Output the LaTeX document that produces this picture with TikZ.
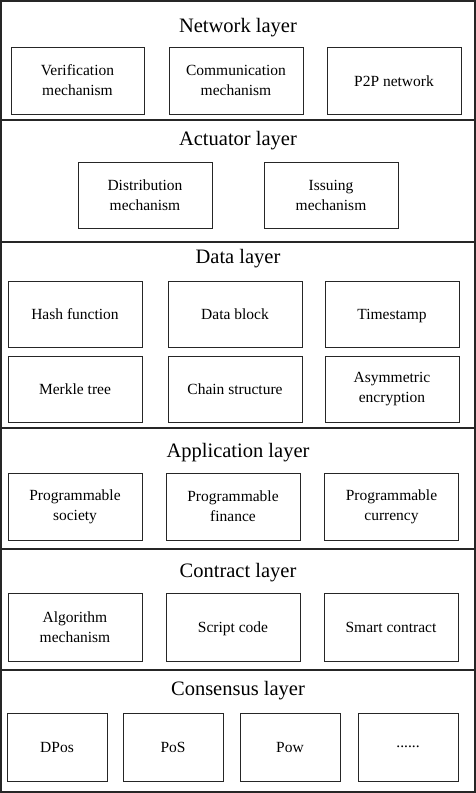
\documentclass[tikz,border=0pt]{standalone}
\usepackage{fontspec}
\setmainfont{Liberation Serif}
\begin{document}
\begin{tikzpicture}[x=1pt,y=-1pt,
  layerbox/.style={draw=black!85,line width=1.3pt,minimum width=474pt,inner sep=0pt},
  title/.style={font=\fontsize{20.5}{24}\selectfont,anchor=base,inner sep=0pt},
  item/.style={draw=black!85,line width=1pt,minimum width=134pt,minimum height=67pt,align=center,inner sep=0pt,
    font=\fontsize{15.5}{20}\selectfont},
  one/.style={text height=11pt,text depth=0pt},
  small/.style={item,minimum width=100pt,minimum height=68pt}]
\useasboundingbox (0,0) rectangle (476,793);
% layers
\node[layerbox,minimum height=119pt] (Lnet) at (238,60.5) {};
\node[layerbox,minimum height=122pt] (Lact) at (238,181) {};
\node[layerbox,minimum height=186pt] (Ldat) at (238,335) {};
\node[layerbox,minimum height=121pt] (Lapp) at (238,488.5) {};
\node[layerbox,minimum height=121pt] (Lcon) at (238,609.5) {};
\node[layerbox,minimum height=122pt] (Lcns) at (238,731) {};
% titles
\node[title] (Tnet) at (238,32) {Network layer};
\node[title] (Tact) at (238,145) {Actuator layer};
\node[title] (Tdat) at (238,263) {Data layer};
\node[title] (Tapp) at (238,457) {Application layer};
\node[title] (Tcon) at (238,577) {Contract layer};
\node[title] (Tcns) at (238,695) {Consensus layer};
% network
\node[item,minimum width=133pt] (n1) at (77.5,80.5) {Verification\\mechanism};
\node[item] (n2) at (236,80.5) {Communication\\mechanism};
\node[item,one] (n3) at (394,80.5) {P2P network};
% actuator
\node[item,minimum height=66pt] (a1) at (145,195) {Distribution\\mechanism};
\node[item,minimum height=66pt] (a2) at (331,195) {Issuing\\mechanism};
% data
\node[item,one,minimum height=66pt] (d1) at (75,314) {Hash function};
\node[item,one,minimum height=66pt] (d2) at (235,314) {Data block};
\node[item,one,minimum height=66pt] (d3) at (392,314) {Timestamp};
\node[item,one,minimum height=66pt] (d4) at (75,389) {Merkle tree};
\node[item,one,minimum height=66pt] (d5) at (235,389) {Chain structure};
\node[item,minimum height=66pt] (d6) at (392,389) {Asymmetric\\encryption};
% application
\node[item] (p1) at (75,506.5) {Programmable\\society};
\node[item] (p2) at (233,506.5) {Programmable\\finance};
\node[item] (p3) at (391.5,506.5) {Programmable\\currency};
% contract
\node[item,minimum height=68pt] (c1) at (75,627) {Algorithm\\mechanism};
\node[item,one,minimum height=68pt] (c2) at (233,627) {Script code};
\node[item,one,minimum height=68pt] (c3) at (391,627) {Smart contract};
% consensus
\node[small,one] (s1) at (57,747) {DPos};
\node[small,one] (s2) at (173,747) {PoS};
\node[small,one] (s3) at (290,747) {Pow};
\node[small] (s4) at (408,747) {......};
\end{tikzpicture}
\end{document}
